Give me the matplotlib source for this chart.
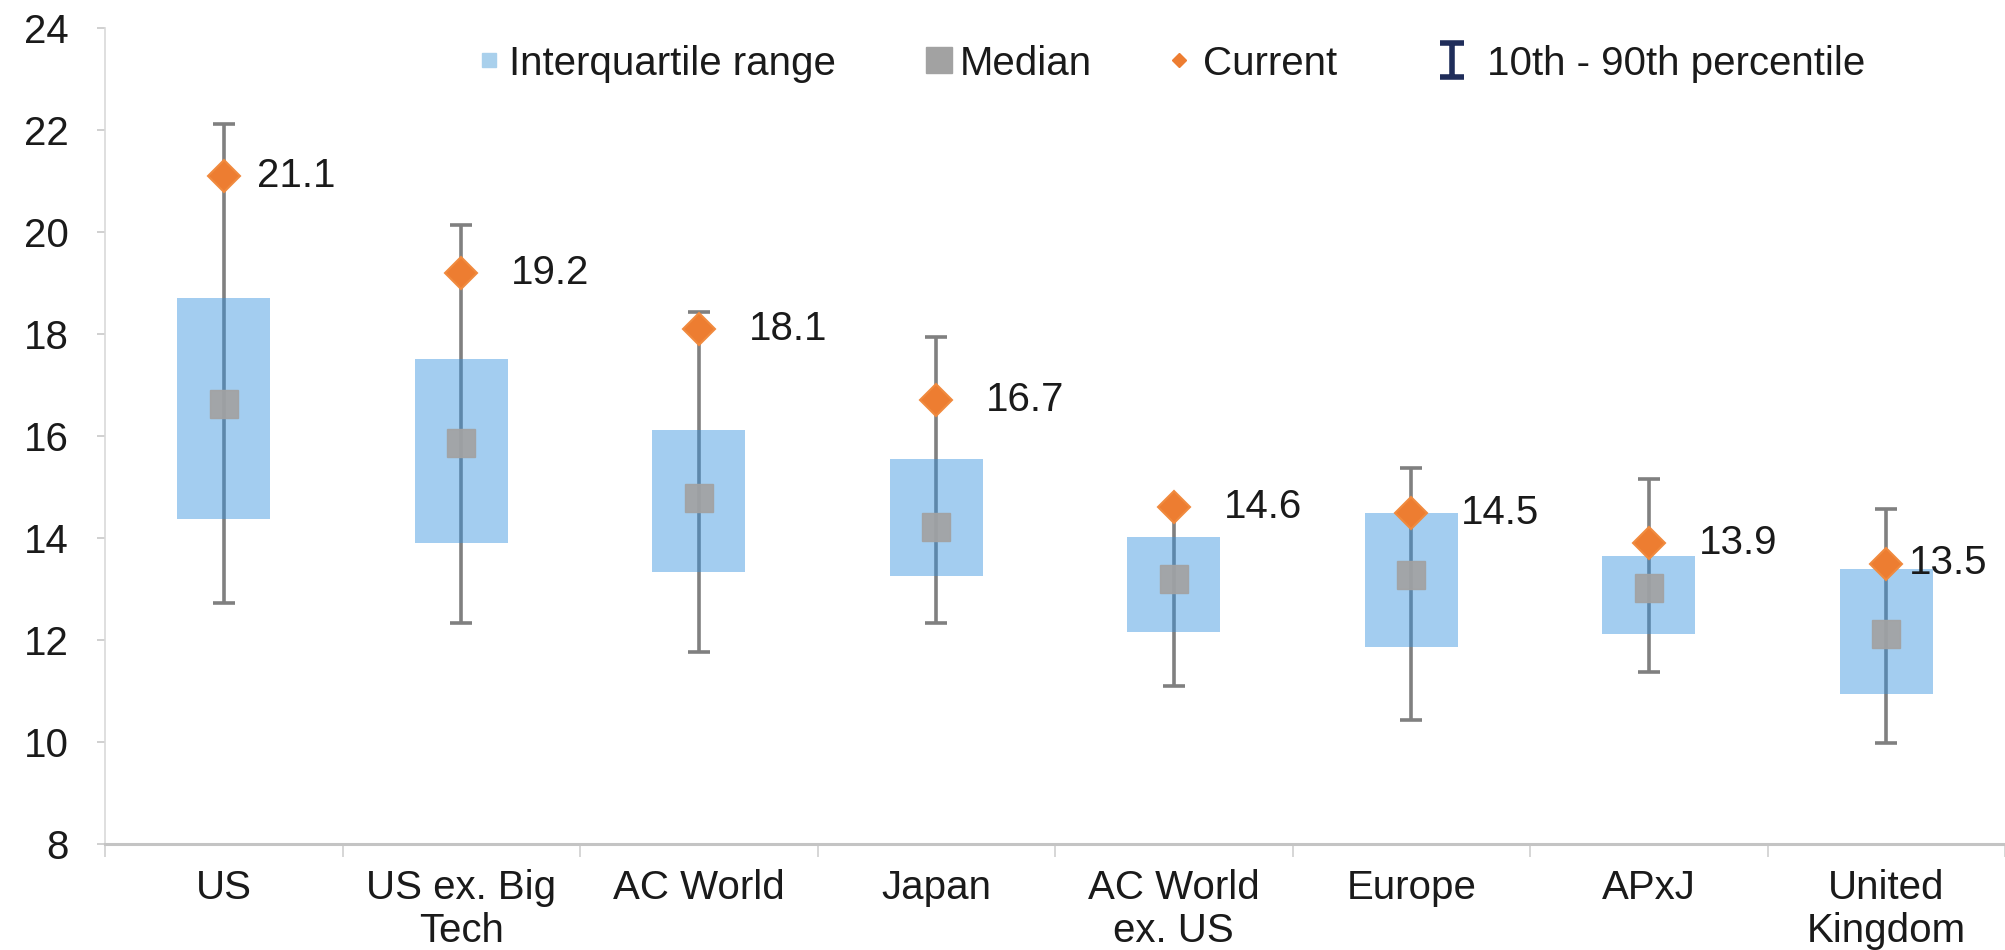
import numpy as np
import matplotlib
matplotlib.use("Agg")
import matplotlib.pyplot as plt
from matplotlib.lines import Line2D
from matplotlib.path import Path

plt.rcParams["font.family"] = ["Liberation Sans", "DejaVu Sans"]

# Forward P/E distribution by region
categories = ["US", "US ex. Big\nTech", "AC World", "Japan", "AC World\nex. US",
              "Europe", "APxJ", "United\nKingdom"]
current = [21.1, 19.2, 18.1, 16.7, 14.6, 14.5, 13.9, 13.5]
median = [16.63, 15.86, 14.78, 14.22, 13.19, 13.28, 13.01, 12.12]
q25 = [14.37, 13.90, 13.34, 13.25, 12.15, 11.87, 12.11, 10.94]
q75 = [18.71, 17.51, 16.12, 15.55, 14.01, 14.50, 13.65, 13.39]
p10 = [12.72, 12.33, 11.76, 12.33, 11.10, 10.44, 11.38, 9.99]
p90 = [22.11, 20.14, 18.44, 17.95, 14.60, 15.37, 15.15, 14.56]
y_ticks = [8, 10, 12, 14, 16, 18, 20, 22, 24]
legend_labels = ["Interquartile range", "Median", "Current", "10th - 90th percentile"]

FS = 29
TXT = "#1a1a1a"

fig = plt.figure(figsize=(20.05, 9.5), dpi=100)
W, H = 2005, 950
ax = fig.add_axes([105 / W, 1 - 844 / H, (W - 105) / W, (844 - 28) / H])

x = np.arange(len(categories))
med = np.array(median)

# 10th-90th percentile whiskers (behind the translucent boxes)
eb = ax.errorbar(x, med, yerr=[med - np.array(p10), np.array(p90) - med],
                 fmt="none", ecolor="#808080", elinewidth=2.6,
                 capsize=8, capthick=2.6, zorder=2)
for cap in eb[1]:
    cap.set_color("#5f5f5f")

# Interquartile range boxes
ax.bar(x, np.array(q75) - np.array(q25), bottom=q25, width=0.39,
       color="#3390de", alpha=0.45, linewidth=0, zorder=3)

# Median squares
ax.plot(x, median, "s", ms=20, color="#a2a2a2", alpha=0.92, ls="", zorder=4)

# Current values
ax.plot(x, current, "D", ms=16, color="#ed7d31", mec="#f08a3e", mew=1.5,
        ls="", zorder=5)

label_dx = {0: 24, len(categories) - 1: 16}
for i, v in enumerate(current):
    ax.annotate(f"{v:.1f}", (x[i], v), xytext=(label_dx.get(i, 36), 0),
                textcoords="offset points", ha="left", va="center",
                fontsize=FS, color=TXT, zorder=6)

ax.set_xlim(-0.5, 7.5 - 4 / 238)
ax.set_ylim(8, 24)
ax.set_yticks(y_ticks)
ax.set_yticklabels([str(t) for t in y_ticks])
ax.set_xticks(x)
ax.set_xticklabels(categories, linespacing=1.15)
ax.set_xticks(np.arange(len(categories) + 1) - 0.5, minor=True)

ax.tick_params(axis="y", length=6, width=1.2, color="#c8c8c8", pad=20,
               labelsize=FS, labelcolor=TXT)
ax.tick_params(axis="x", which="major", length=0, pad=18,
               labelsize=FS, labelcolor=TXT)
ax.tick_params(axis="x", which="minor", length=9, width=1.2, color="#d0d0d0")

for s in ("top", "right"):
    ax.spines[s].set_visible(False)
ax.spines["left"].set_color("#d9d9d9")
ax.spines["left"].set_linewidth(1.2)
ax.spines["bottom"].set_color("#c4c4c4")
ax.spines["bottom"].set_linewidth(2.2)

# Legend row along the top of the figure
ibeam = Path([(-0.7, 1), (0.7, 1), (0, 1), (0, -1), (-0.7, -1), (0.7, -1)],
             [Path.MOVETO, Path.LINETO, Path.MOVETO, Path.LINETO,
              Path.MOVETO, Path.LINETO])
legend_styles = [
    dict(marker="s", ms=10, color="#a9d0ec"),
    dict(marker="s", ms=19, color="#a2a2a2"),
    dict(marker="D", ms=7.5, color="#ed7d31"),
    dict(marker=ibeam, ms=25, color="#1f2d5a", mew=4),
]
legend_marker_px = [489, 939, 1179, 1452]
legend_text_px = [509, 960, 1203, 1487]
ly = 1 - 60 / H
for style, mx, tx, lab in zip(legend_styles, legend_marker_px, legend_text_px,
                              legend_labels):
    fig.add_artist(Line2D([mx / W], [ly], ls="", transform=fig.transFigure, **style))
    fig.text(tx / W, ly, lab, fontsize=FS, color=TXT, ha="left", va="center_baseline")

fig.savefig("out.png", dpi=100, facecolor="white")
